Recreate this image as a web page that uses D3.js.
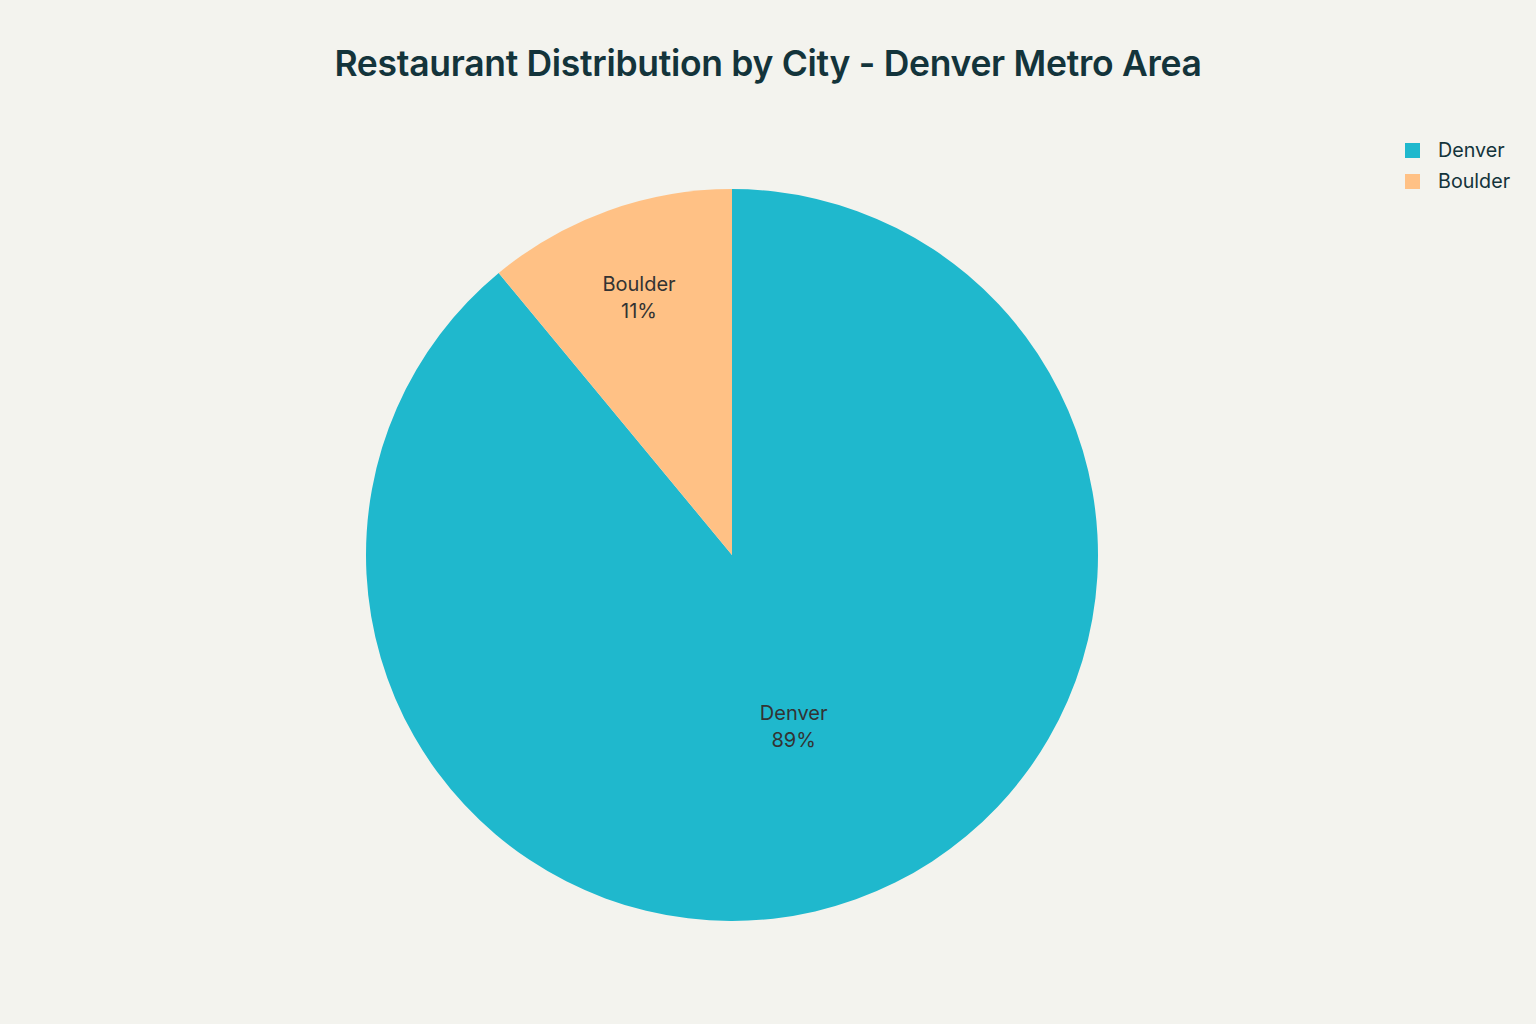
<!DOCTYPE html>
<html><head><meta charset="utf-8">
<script src="https://cdn.jsdelivr.net/npm/d3@7"></script>
<style>
html,body{margin:0;padding:0;background:#F3F3EE;}
svg{display:block;}
</style></head>
<body>
<svg id="chart" width="1536" height="1024"></svg>
<script>
const categories = ["Denver", "Boulder"];
const values = [89, 11];
const colors = ["#1FB8CD", "#FFC185"];
const titleText = "Restaurant Distribution by City - Denver Metro Area";

const W = 1536, H = 1024;
const svg = d3.select("#chart");
svg.append("rect").attr("width", W).attr("height", H).attr("fill", "#F3F3EE");

const font = "Inter, 'Open Sans', 'DejaVu Sans', sans-serif";

svg.append("text").attr("x", 768).attr("y", 76).attr("text-anchor", "middle")
  .attr("font-family", font).attr("font-size", 35.5).attr("font-weight", 600)
  .attr("fill", "#13343B").attr("letter-spacing", "-0.3").text(titleText);

const cx = 732, cy = 555, r = 366;
const data = categories.map((c, i) => ({ name: c, value: values[i], color: colors[i] }));
const pie = d3.pie().value(d => d.value).sort(null);
const arcs = pie(data);
const arc = d3.arc().innerRadius(0).outerRadius(r);
const total = d3.sum(values);

const g = svg.append("g").attr("transform", `translate(${cx},${cy})`);
g.selectAll("path").data(arcs).join("path")
  .attr("d", arc).attr("fill", d => d.data.color);

const labels = g.selectAll("g.lbl").data(arcs).join("g").attr("class", "lbl")
  .attr("transform", d => {
    const span = d.endAngle - d.startAngle;
    const rad = span > Math.PI ? r * 0.497 : r * 0.75;
    const mid = (d.startAngle + d.endAngle) / 2;
    const x = Math.sin(mid) * rad, y = -Math.cos(mid) * rad;
    return `translate(${x},${y})`;
  });
labels.append("text").attr("text-anchor", "middle").attr("y", -6)
  .attr("font-family", font).attr("font-size", 20).attr("fill", "#333")
  .text(d => d.data.name);
labels.append("text").attr("text-anchor", "middle").attr("y", 21)
  .attr("font-family", font).attr("font-size", 20).attr("fill", "#333")
  .text(d => Math.round(d.data.value / total * 100) + "%");

const leg = svg.append("g").attr("transform", "translate(1405,143)");
data.forEach((d, i) => {
  const row = leg.append("g").attr("transform", `translate(0,${i * 31})`);
  row.append("rect").attr("width", 15).attr("height", 15).attr("fill", d.color);
  row.append("text").attr("x", 33).attr("y", 14).attr("font-family", font)
    .attr("font-size", 19.7).attr("fill", "#13343B").text(d.name);
});
</script>
</body></html>
